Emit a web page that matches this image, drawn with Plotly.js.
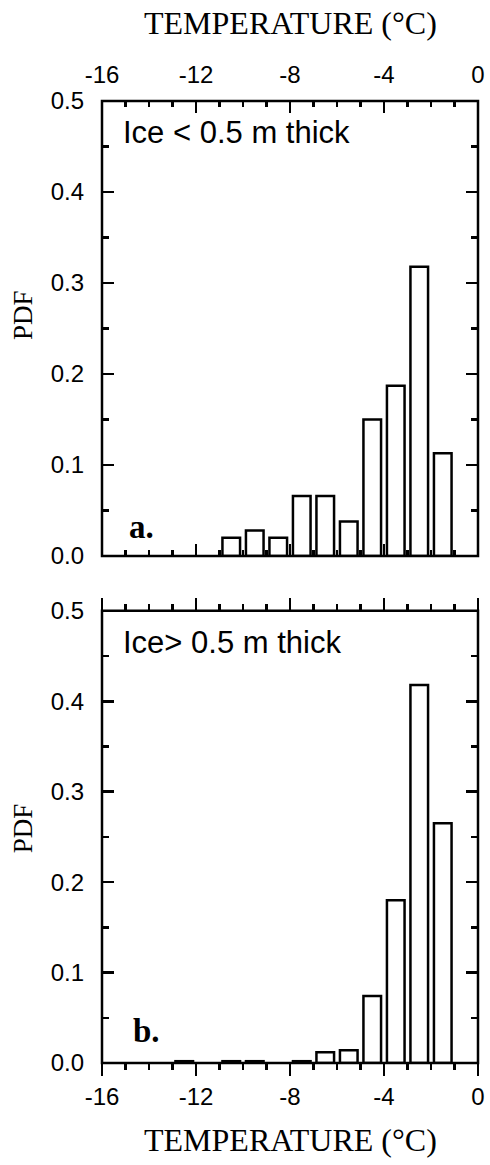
<!DOCTYPE html>
<html>
<head>
<meta charset="utf-8">
<script src="https://cdn.plot.ly/plotly-3.0.1.min.js"></script>
<style>html,body{margin:0;padding:0;background:#fff;}#chart{width:490px;height:1165px;}</style>
</head>
<body>
<div id="chart"></div>
<script>
// Data
const binCenters = [-12.5, -11.5, -10.5, -9.5, -8.5, -7.5, -6.5, -5.5, -4.5, -3.5, -2.5, -1.5];
const pdfThin  = [null, null, 0.020, 0.028, 0.020, 0.066, 0.066, 0.038, 0.150, 0.187, 0.318, 0.113];
const pdfThick = [0.002, null, 0.002, 0.002, null, 0.002, 0.012, 0.014, 0.074, 0.180, 0.418, 0.265];
const xTickVals = [-16, -12, -8, -4, 0];
const xTickText = ['-16', '-12', '-8', '-4', '0'];
const panelLabels = ['a.', 'b.'];
const panelNotes = ['Ice < 0.5 m thick', 'Ice> 0.5 m thick'];
const xTitle = 'TEMPERATURE (°C)';
const yTitle = 'PDF';

const sans = 'Arial, "Liberation Sans", Helvetica, sans-serif';
const serif = '"Times New Roman", "Liberation Serif", Times, serif';
const LW = 2.5;

function barTrace(y, xa, ya) {
  return {
    type: 'bar', x: binCenters, y: y, xaxis: xa, yaxis: ya, width: 0.75,
    marker: {color: 'white', line: {color: 'black', width: LW}},
    showlegend: false, hoverinfo: 'skip'
  };
}

function xAx(tickDir, opts) {
  return Object.assign({
    range: [-16, 0], tickmode: 'array', tickvals: xTickVals, ticktext: xTickText,
    ticks: tickDir, ticklen: 12, tickwidth: LW, tickcolor: 'black',
    minor: {tickmode: 'linear', tick0: 0, dtick: 1, ticks: tickDir, ticklen: 6, tickwidth: LW, tickcolor: 'black'},
    mirror: 'allticks', showline: false,
    showgrid: false, zeroline: false,
    tickfont: {family: sans, size: 24, color: 'black'}
  }, opts);
}

function yAx(opts) {
  return Object.assign({
    range: [0, 0.5], tickmode: 'linear', tick0: 0, dtick: 0.1, tickformat: '.1f',
    ticks: 'inside', ticklen: 12, tickwidth: LW, tickcolor: 'black',
    minor: {tickmode: 'linear', tick0: 0, dtick: 0.05, ticks: 'inside', ticklen: 7, tickwidth: LW, tickcolor: 'black'},
    mirror: 'allticks', showline: false,
    showgrid: false, zeroline: false,
    tickfont: {family: sans, size: 24, color: 'black'},
    ticklabelstandoff: 17
  }, opts);
}

function frame(xa, ya) {
  return {type: 'rect', xref: xa + ' domain', yref: ya + ' domain', x0: 0, x1: 1, y0: 0, y1: 1,
    line: {color: 'black', width: LW}, fillcolor: 'rgba(0,0,0,0)', layer: 'above'};
}

function note(text, x, y, font, extra) {
  return Object.assign({text: text, xref: 'paper', yref: 'paper', x: x, y: y,
    xanchor: 'left', yanchor: 'middle', showarrow: false, font: font}, extra || {});
}

const data = [barTrace(pdfThin, 'x', 'y'), barTrace(pdfThick, 'x2', 'y2')];

const titleFont = {family: serif, size: 32, color: 'black'};
const pdfFont = {family: serif, size: 27, color: 'black'};
const noteFont = {family: sans, size: 31, color: 'black'};
const labFont = {family: serif, size: 33, color: 'black'};

const layout = {
  width: 490, height: 1165,
  margin: {l: 102, r: 12, t: 101, b: 102},
  paper_bgcolor: 'white', plot_bgcolor: 'white',
  bargap: 0,
  xaxis: xAx('inside', {anchor: 'y', side: 'top', ticklabelstandoff: 12}),
  yaxis: yAx({domain: [0.527, 1], anchor: 'x'}),
  xaxis2: xAx('outside', {anchor: 'y2', side: 'bottom'}),
  yaxis2: yAx({domain: [0, 0.470], anchor: 'x2'}),
  shapes: [frame('x', 'y'), frame('x2', 'y2')],
  annotations: [
    note(xTitle, 0.5, 1.081, titleFont, {xanchor: 'center'}),
    note(xTitle, 0.5, -0.080, titleFont, {xanchor: 'center'}),
    note(yTitle, -0.21, 0.7775, pdfFont, {xanchor: 'center', textangle: -90}),
    note(yTitle, -0.21, 0.244, pdfFont, {xanchor: 'center', textangle: -90}),
    note(panelNotes[0], 0.05, 0.967, noteFont),
    note(panelNotes[1], 0.05, 0.437, noteFont),
    note('<b>' + panelLabels[0] + '</b>', 0.066, 0.557, labFont),
    note('<b>' + panelLabels[1] + '</b>', 0.076, 0.033, labFont)
  ]
};

Plotly.newPlot('chart', data, layout, {displayModeBar: false, staticPlot: true});
</script>
</body>
</html>
